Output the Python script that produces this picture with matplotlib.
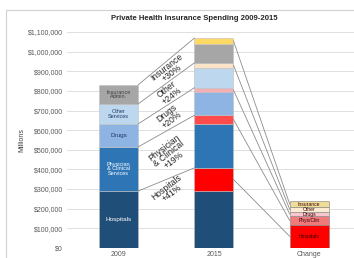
import matplotlib
matplotlib.use("Agg")
import matplotlib.pyplot as plt
from matplotlib.patches import Rectangle
import numpy as np

plt.rcParams['font.family'] = ['Liberation Sans', 'DejaVu Sans']

title = "Private Health Insurance Spending 2009-2015"
x_labels = ["2009", "2015", "Change"]
seg_names_2009 = ["Hospitals", "Physician\n& Clinical\nServices", "Drugs", "Other\nServices", "Insurance\nAdmin."]
band_labels = ["Hospitals\n+41%", "Physician\n& Clinical\n+19%", "Drugs\n+20%", "Other\n+24%", "Insurance\n+30%"]
change_names = ["Hospitals", "Phys/Clin", "Drugs", "Other", "Insurance"]

# $ millions
base_2009 = [290000, 225000, 117000, 102000, 97000]
increase = [118000, 43000, 23000, 25000, 29000]

base_colors = ["#1F4E79", "#2E75B6", "#8DB4E2", "#BDD7EE", "#A6A6A6"]
inc_colors = ["#FF0000", "#FF4B4B", "#F4AFB4", "#FBE3C8", "#FFD966"]
chg_colors = ["#FF0000", "#F07A7A", "#F8C6CC", "#FBEBD2", "#EEDC98"]
base_text = ["white", "white", "#1F3864", "#1F3864", "#404040"]

fig = plt.figure(figsize=(3.54, 2.58), dpi=100)
fig.patches.append(Rectangle((0.018, -0.05), 0.99, 1.011, transform=fig.transFigure,
                             fill=False, edgecolor="#D0D0D0", lw=0.8))
ax = fig.add_axes([0.19, 0.039, 0.81, 0.837])
ax.set_xlim(-0.54, 2.47)
ax.set_ylim(0, 1100000)
ax.set_yticks(np.arange(0, 1100001, 100000))
ax.set_yticklabels(["$0"] + ["${:,}".format(v) for v in range(100000, 1100001, 100000)])
ax.yaxis.grid(True, color="#D9D9D9", lw=0.6)
ax.set_axisbelow(True)
for s in ax.spines.values():
    s.set_visible(False)
ax.tick_params(axis="y", length=0, labelsize=5, labelcolor="#595959", pad=3)
ax.tick_params(axis="x", length=0, labelsize=5, labelcolor="#595959", pad=2)
ax.set_xticks([0, 1, 2])
ax.set_xticklabels(x_labels)
ax.set_ylabel("Millions", fontsize=5, color="#404040", labelpad=2)
fig.text(0.55, 0.93, title, ha="center", va="center", fontsize=5.6, fontweight="bold", color="#262626")

w = 0.41
ec = "#7F7F7F"
# 2009 bar
bottom = 0
tops_2009 = []
for v, c, name, tc in zip(base_2009, base_colors, seg_names_2009, base_text):
    ax.bar(0, v, w, bottom=bottom, color=c, edgecolor="#BFBFBF", lw=0.4)
    fs = 4.0 if "\n" in name else 4.6
    ax.text(0, bottom + v / 2, name, ha="center", va="center", fontsize=fs, color=tc, linespacing=0.9)
    bottom += v
    tops_2009.append(bottom)

# 2015 bar
bottom = 0
tops_2015 = []
mids_inc = []
for v, d, c, ci in zip(base_2009, increase, base_colors, inc_colors):
    ax.bar(1, v, w, bottom=bottom, color=c, edgecolor="#BFBFBF", lw=0.4)
    bottom += v
    ax.bar(1, d, w, bottom=bottom, color=ci, edgecolor="#BFBFBF", lw=0.4)
    mids_inc.append(bottom + d / 2)
    bottom += d
    tops_2015.append(bottom)

# change bar
bottom = 0
mids_chg = []
for d, c, name in zip(increase, chg_colors, change_names):
    ax.bar(2, d, w, bottom=bottom, color=c, edgecolor=ec, lw=0.4)
    mids_chg.append(bottom + d / 2)
    ax.text(2, bottom + d / 2, name, ha="center", va="center", fontsize=3.6, color="#3a0000")
    bottom += d

# connector lines 2009 -> 2015
x0, x1 = 0 + w / 2, 1 - w / 2
for t0, t1 in zip(tops_2009, tops_2015):
    ax.plot([x0, x1], [t0, t1], color="#8C8C8C", lw=0.6)
# band labels
lower0 = [0] + tops_2009[:-1]
lower1 = [0] + tops_2015[:-1]
for i, lab in enumerate(band_labels):
    xm = 0.5 + 0.03
    f = (xm - x0) / (x1 - x0)
    top_line = tops_2009[i] + (tops_2015[i] - tops_2009[i]) * f
    if i == 0:
        low_line = top_line - 120000
    else:
        low_line = lower0[i] + (lower1[i] - lower0[i]) * f
    ax.text(xm, (top_line + low_line) / 2, lab, ha="center", va="center", rotation=38,
            fontsize=6.2, color="#262626", linespacing=0.82, rotation_mode="anchor")

# connector lines 2015 -> change
x2, x3 = 1 + w / 2, 2 - w / 2
for m1, m2 in zip(mids_inc, mids_chg):
    ax.plot([x2, x3], [m1, m2], color="#8C8C8C", lw=0.6)

fig.savefig("out.png", dpi=100)
